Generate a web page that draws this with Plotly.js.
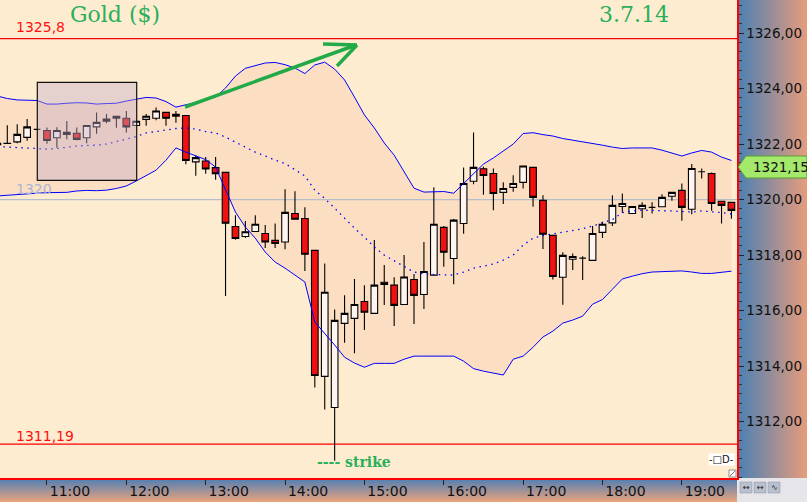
<!DOCTYPE html>
<html><head><meta charset="utf-8">
<script src="https://cdn.plot.ly/plotly-3.0.1.min.js"></script>
<style>html,body{margin:0;padding:0;background:#feecd1;}#chart{width:807px;height:502px;}</style>
</head><body><div id="chart"></div>
<script>
const DAY = '2014-07-03 ';
const times = ['10:22:30','10:30:00','10:37:30','10:45:00','10:52:30','11:00:00','11:07:30','11:15:00','11:22:30','11:30:00',
'11:37:30','11:45:00','11:52:30','12:00:00','12:07:30','12:15:00','12:22:30','12:30:00','12:37:30','12:45:00',
'12:52:30','13:00:00','13:07:30','13:15:00','13:22:30','13:30:00','13:37:30','13:45:00','13:52:30','14:00:00',
'14:07:30','14:15:00','14:22:30','14:30:00','14:37:30','14:45:00','14:52:30','15:00:00','15:07:30','15:15:00',
'15:22:30','15:30:00','15:37:30','15:45:00','15:52:30','16:00:00','16:07:30','16:15:00','16:22:30','16:30:00',
'16:37:30','16:45:00','16:52:30','17:00:00','17:07:30','17:15:00','17:22:30','17:30:00','17:37:30','17:45:00',
'17:52:30','18:00:00','18:07:30','18:15:00','18:22:30','18:30:00','18:37:30','18:45:00','18:52:30','19:00:00',
'19:07:30','19:15:00','19:22:30','19:30:00','19:37:30'];
const open  = [1321.98,1322.02,1322.08,1322.24,1322.53,1322.49,1322.23,1322.42,1322.39,1322.23,1322.62,1322.82,1322.93,1322.93,1322.67,1322.89,1322.93,1323.14,1323.00,1323.03,
1321.36,1321.39,1321.15,1320.98,1319.03,1318.67,1318.85,1318.78,1318.53,1318.47,1319.50,1319.32,1318.17,1313.63,1312.51,1315.54,1315.72,1316.33,1315.90,1317.02,
1316.92,1316.22,1317.12,1316.58,1317.28,1319.00,1317.88,1319.14,1320.66,1321.11,1320.94,1320.26,1320.44,1320.62,1321.16,1319.97,1318.71,1317.20,1317.85,1317.89,
1317.81,1318.82,1319.16,1319.75,1319.50,1319.67,1319.72,1319.74,1320.12,1320.33,1319.65,1321.00,1320.94,1319.94,1319.90];
const high  = [1322.05,1322.68,1322.71,1322.90,1322.55,1322.60,1322.61,1322.83,1322.60,1322.68,1323.14,1323.08,1323.01,1323.19,1322.84,1323.08,1323.32,1323.15,1323.19,1323.05,
1321.60,1321.53,1321.53,1321.00,1319.44,1319.23,1319.44,1319.08,1319.14,1320.37,1320.30,1319.72,1318.18,1317.70,1316.04,1316.55,1317.14,1316.91,1318.54,1317.64,
1317.20,1318.00,1317.32,1318.47,1320.44,1319.05,1319.30,1321.16,1322.42,1321.18,1321.12,1320.62,1320.88,1321.22,1321.17,1320.16,1318.72,1318.10,1318.06,1317.96,
1319.05,1319.20,1320.16,1320.22,1319.76,1319.90,1319.90,1320.19,1320.27,1320.58,1321.28,1321.12,1320.98,1319.96,1319.91];
const low   = [1321.95,1322.00,1322.03,1322.12,1322.50,1322.01,1321.87,1322.17,1322.14,1322.03,1322.37,1322.75,1322.59,1322.42,1322.65,1322.66,1322.86,1322.66,1322.77,1321.27,
1320.86,1320.93,1320.71,1316.53,1318.55,1318.62,1318.84,1318.26,1318.26,1318.21,1319.28,1317.43,1313.23,1312.44,1310.59,1314.84,1314.46,1315.30,1315.89,1316.20,
1315.45,1316.20,1315.52,1316.06,1317.27,1317.58,1316.95,1318.77,1320.55,1320.17,1319.62,1319.84,1320.28,1320.40,1319.74,1318.22,1317.12,1316.21,1317.46,1317.10,
1317.80,1318.62,1319.05,1319.53,1319.49,1319.34,1319.50,1319.73,1319.96,1319.24,1319.47,1320.76,1319.60,1319.14,1319.31];
const close = [1322.03,1322.03,1322.35,1322.62,1322.53,1322.13,1322.49,1322.35,1322.17,1322.67,1322.78,1322.90,1323.00,1322.62,1322.82,1323.00,1323.19,1322.93,1323.07,1321.41,
1321.51,1321.10,1320.93,1319.15,1318.60,1318.84,1319.11,1318.47,1318.42,1319.54,1319.29,1318.03,1313.66,1316.66,1315.65,1315.90,1316.22,1315.94,1316.92,1316.94,
1316.19,1317.21,1316.55,1317.41,1319.11,1318.10,1319.26,1320.58,1321.16,1320.87,1320.22,1320.40,1320.58,1321.21,1320.08,1318.75,1317.23,1317.99,1317.95,1317.89,
1318.78,1319.11,1319.79,1319.86,1319.75,1319.79,1319.72,1320.08,1320.26,1319.72,1321.12,1321.00,1319.86,1319.79,1319.61];
const bandUpper = [1323.73,1323.64,1323.59,1323.59,1323.57,1323.44,1323.44,1323.47,1323.49,1323.48,1323.44,1323.46,1323.47,1323.55,1323.61,1323.68,1323.66,1323.53,1323.33,1323.41,
1323.50,1323.60,1323.69,1324.02,1324.45,1324.73,1324.83,1324.92,1324.94,1324.86,1324.74,1324.54,1324.85,1324.95,1324.70,1324.31,1323.69,1323.05,1322.58,1322.04,
1321.60,1320.99,1320.41,1320.27,1320.27,1320.29,1320.23,1320.59,1320.92,1321.28,1321.50,1321.75,1322.00,1322.38,1322.41,1322.34,1322.29,1322.20,1322.14,1322.09,
1322.04,1321.96,1321.89,1321.84,1321.86,1321.86,1321.86,1321.78,1321.68,1321.57,1321.68,1321.77,1321.71,1321.53,1321.41];
const bandMiddle = [1321.91,1321.89,1321.87,1321.86,1321.84,1321.82,1321.84,1321.89,1321.93,1321.95,1321.96,1322.00,1322.08,1322.18,1322.27,1322.40,1322.45,1322.50,1322.56,1322.58,
1322.54,1322.45,1322.40,1322.25,1322.07,1321.89,1321.71,1321.57,1321.42,1321.30,1321.06,1320.85,1320.34,1320.04,1319.69,1319.33,1318.97,1318.65,1318.29,1318.00,
1317.78,1317.59,1317.39,1317.32,1317.30,1317.28,1317.28,1317.39,1317.53,1317.60,1317.68,1317.82,1318.00,1318.36,1318.61,1318.70,1318.76,1318.83,1318.88,1318.95,
1319.05,1319.17,1319.28,1319.53,1319.59,1319.62,1319.62,1319.60,1319.59,1319.57,1319.55,1319.59,1319.57,1319.53,1319.48];
const bandLower = [1320.13,1320.16,1320.18,1320.20,1320.23,1320.25,1320.25,1320.26,1320.31,1320.33,1320.32,1320.34,1320.40,1320.49,1320.67,1320.88,1321.06,1321.42,1321.86,1321.71,
1321.57,1321.44,1321.17,1320.34,1319.55,1319.01,1318.61,1318.11,1317.75,1317.53,1317.28,1317.03,1315.59,1315.19,1314.76,1314.32,1314.11,1313.96,1314.10,1314.10,
1314.10,1314.25,1314.36,1314.36,1314.36,1314.36,1314.36,1314.18,1313.91,1313.82,1313.75,1313.68,1314.25,1314.36,1314.68,1315.05,1315.26,1315.55,1315.66,1315.80,
1316.23,1316.40,1316.77,1317.14,1317.24,1317.33,1317.39,1317.41,1317.42,1317.43,1317.39,1317.34,1317.34,1317.39,1317.42];
const hourTicks = ['11:00','12:00','13:00','14:00','15:00','16:00','17:00','18:00','19:00'];
const priceTicks = [1312, 1314, 1316, 1318, 1320, 1322, 1324, 1326];
const levelHigh = 1325.8, levelLow = 1311.19, levelRound = 1320, lastPrice = '1321,15';
const labelHigh = '1325,8', labelLow = '1311,19', labelRound = '1320';
const titleText = 'Gold ($)', dateText = '3.7.14', strikeText = '---- strike';

// plot-area pixel helpers (plot area is 737 x 478 px)
const W = 737, H = 478;
const px = x => x / W;
const py = y => 1 - y / H;

const xs = times.map(t => DAY + t);
const xRange = [DAY + '10:24:29', DAY + '19:41:42'];
const yRange = [1309.97, 1327.19];

const BG = '#feecd1', BAND = '#fcdfc2', GREEN = '#2aaf5a';

function grad(dir, c1, c2) {
  const x2 = dir === 'h' ? 1 : 0, y2 = dir === 'h' ? 0 : 1;
  const s = '<svg xmlns="http://www.w3.org/2000/svg" width="100" height="100" viewBox="0 0 100 100" preserveAspectRatio="none">' +
    '<defs><linearGradient id="g" x1="0" y1="0" x2="' + x2 + '" y2="' + y2 + '">' +
    '<stop offset="0" stop-color="' + c1 + '"/><stop offset="1" stop-color="' + c2 + '"/></linearGradient></defs>' +
    '<rect width="100" height="100" fill="url(#g)"/></svg>';
  return 'data:image/svg+xml;charset=utf-8,' + encodeURIComponent(s);
}

const hline = (v, color, w) => ({type:'scatter', mode:'lines', x:xRange, y:[v, v], xaxis:'x', yaxis:'y',
  line:{color:color, width:w}, hoverinfo:'skip', showlegend:false});

const traces = [
  {type:'scatter', mode:'lines', x:xs, y:bandUpper, xaxis:'x', yaxis:'y', line:{width:0}, hoverinfo:'skip', showlegend:false},
  {type:'scatter', mode:'lines', x:xs, y:bandLower, xaxis:'x', yaxis:'y', fill:'tonexty', fillcolor:BAND, line:{width:0}, hoverinfo:'skip', showlegend:false},
  hline(levelRound, '#b6bdcb', 1.2),
  hline(levelHigh, '#ff0000', 1.2),
  hline(levelLow, '#ff0000', 1.2),
  {type:'candlestick', x:xs, open:open, high:high, low:low, close:close, xaxis:'x2', yaxis:'y2',
   increasing:{line:{color:'#000000', width:1.1}, fillcolor:'#fff5f0'},
   decreasing:{line:{color:'#000000', width:1.1}, fillcolor:'#f01010'},
   whiskerwidth:0, hoverinfo:'skip', showlegend:false},
  {type:'scatter', mode:'lines', x:xs, y:bandUpper, xaxis:'x2', yaxis:'y2', line:{color:'#0000ff', width:1}, hoverinfo:'skip', showlegend:false},
  {type:'scatter', mode:'lines', x:xs, y:bandLower, xaxis:'x2', yaxis:'y2', line:{color:'#0000ff', width:1}, hoverinfo:'skip', showlegend:false},
  {type:'scatter', mode:'lines', x:xs, y:bandMiddle, xaxis:'x2', yaxis:'y2', line:{color:'#0000ff', width:1.3, dash:'1.5px,4.5px'}, hoverinfo:'skip', showlegend:false}
];

const tickFont = {family:'DejaVu Sans', size:14, color:'#111111'};
const layout = {
  width:807, height:502,
  margin:{l:0, r:70, t:0, b:24, pad:0},
  paper_bgcolor:BG, plot_bgcolor:BG,
  showlegend:false, separators:',.',
  boxgap:0.33, boxgroupgap:0,
  xaxis:{type:'date', range:xRange, tickmode:'array', tickvals:hourTicks.map(h => DAY + h), ticktext:hourTicks,
    ticks:'outside', ticklen:5, tickcolor:'#222', showgrid:false, zeroline:false,
    showline:true, linecolor:'#ff0000', linewidth:1.5, tickfont:tickFont, ticklabelshift:23, ticklabelstandoff:-5,
    rangeslider:{visible:false}, fixedrange:true},
  yaxis:{side:'right', range:yRange, tickmode:'array', tickvals:priceTicks, tickformat:'.2f', ticks:'outside', ticklen:5, tickcolor:'#222',
    minor:{dtick:2/6, tick0:0, ticks:'outside', ticklen:3, tickcolor:'#333'},
    showgrid:false, zeroline:false, showline:true, linecolor:'#ff0000', linewidth:1.5,
    tickfont:{family:'DejaVu Sans', size:13.5, color:'#111111'}, fixedrange:true},
  xaxis2:{type:'date', range:xRange, overlaying:'x', visible:false, rangeslider:{visible:false}, fixedrange:true},
  yaxis2:{range:yRange, overlaying:'y', visible:false, fixedrange:true},
  images:[
    {source:grad('h', '#4a80b4', '#e69c7c'), xref:'paper', yref:'paper', x:1, y:1, sizex:70/W, sizey:1,
     xanchor:'left', yanchor:'top', sizing:'stretch', layer:'below'},
    {source:grad('v', '#4a7db5', '#eca47e'), xref:'paper', yref:'paper', x:0, y:0, sizex:1, sizey:24/H,
     xanchor:'left', yanchor:'top', sizing:'stretch', layer:'below'}
  ],
  shapes:[
    // bottom-right corner panel
    {type:'rect', xref:'paper', yref:'paper', x0:px(737), x1:px(807), y0:py(478), y1:py(502), fillcolor:'#e6e6ea', line:{width:0}, layer:'below'},
    {type:'rect', xref:'paper', yref:'paper', x0:px(740), x1:px(752), y0:py(482), y1:py(493), fillcolor:'#b9c0ce', line:{color:'#8890a0', width:0.5}},
    {type:'rect', xref:'paper', yref:'paper', x0:px(754), x1:px(766), y0:py(482), y1:py(493), fillcolor:'#b9c0ce', line:{color:'#8890a0', width:0.5}},
    {type:'rect', xref:'paper', yref:'paper', x0:px(768), x1:px(780), y0:py(482), y1:py(493), fillcolor:'#b9c0ce', line:{color:'#8890a0', width:0.5}},
    // selection box
    {type:'rect', xref:'paper', yref:'paper', x0:px(37.3), x1:px(136.7), y0:py(82.3), y1:py(180.3),
     fillcolor:'rgba(196,172,200,0.42)', line:{color:'#111111', width:1.2}, layer:'above'},
    // green arrow
    {type:'line', xref:'paper', yref:'paper', x0:px(185), y0:py(107), x1:px(356), y1:py(45), line:{color:'#22aa48', width:3.5}},
    {type:'line', xref:'paper', yref:'paper', x0:px(323), y0:py(44), x1:px(357), y1:py(45), line:{color:'#22aa48', width:3.5}},
    {type:'line', xref:'paper', yref:'paper', x0:px(337), y0:py(66), x1:px(357), y1:py(45), line:{color:'#22aa48', width:3.5}},
    // last price tag
    {type:'path', xref:'paper', yref:'paper',
     path:'M' + px(738) + ',' + py(167) + ' L' + px(746) + ',' + py(156) + ' L' + px(807) + ',' + py(156) +
          ' L' + px(807) + ',' + py(178) + ' L' + px(746) + ',' + py(178) + ' Z',
     fillcolor:'#a4e86c', line:{color:'#5c9c34', width:1}},
    // small corner widget
    {type:'rect', xref:'paper', yref:'paper', x0:px(729), x1:px(736), y0:py(470), y1:py(477), fillcolor:'#ffffff', line:{color:'#777', width:0.8}},
    {type:'line', xref:'paper', yref:'paper', x0:px(730), x1:px(735), y0:py(476), y1:py(471), line:{color:'#555', width:0.8}}
  ],
  annotations:[
    {text:titleText, xref:'paper', yref:'paper', x:px(115), y:py(14), showarrow:false, xanchor:'center', yanchor:'middle',
     font:{family:'DejaVu Serif', size:22, color:GREEN}},
    {text:dateText, xref:'paper', yref:'paper', x:px(634), y:py(14), showarrow:false, xanchor:'center', yanchor:'middle',
     font:{family:'DejaVu Serif', size:22, color:GREEN}},
    {text:labelHigh, xref:'paper', yref:'paper', x:px(14), y:py(27), showarrow:false, xanchor:'left', yanchor:'middle',
     font:{family:'DejaVu Sans', size:14, color:'#ff1010'}},
    {text:labelLow, xref:'paper', yref:'paper', x:px(14), y:py(436), showarrow:false, xanchor:'left', yanchor:'middle',
     font:{family:'DejaVu Sans', size:14, color:'#ff1010'}},
    {text:labelRound, xref:'paper', yref:'paper', x:px(14), y:py(189), showarrow:false, xanchor:'left', yanchor:'middle',
     font:{family:'DejaVu Sans', size:14, color:'#aab6d4'}},
    {text:strikeText, xref:'paper', yref:'paper', x:px(315), y:py(462), showarrow:false, xanchor:'left', yanchor:'middle',
     font:{family:'DejaVu Serif', size:14, color:GREEN, weight:'bold'}},
    {text:lastPrice, xref:'paper', yref:'paper', x:px(751), y:py(167), showarrow:false, xanchor:'left', yanchor:'middle',
     font:{family:'DejaVu Sans', size:13.5, color:'#111111'}},
    {text:'-□D-', xref:'paper', yref:'paper', x:px(721), y:py(459), showarrow:false, xanchor:'center', yanchor:'middle',
     bgcolor:'#ffffff', borderpad:0, font:{family:'DejaVu Sans', size:10, color:'#111'}},
    {text:'↔', xref:'paper', yref:'paper', x:px(746), y:py(487.5), showarrow:false, xanchor:'center', yanchor:'middle', borderpad:0, font:{family:'DejaVu Sans', size:8, color:'#222'}},
    {text:'↔', xref:'paper', yref:'paper', x:px(760), y:py(487.5), showarrow:false, xanchor:'center', yanchor:'middle', borderpad:0, font:{family:'DejaVu Sans', size:8, color:'#222'}},
    {text:'∿', xref:'paper', yref:'paper', x:px(774), y:py(487.5), showarrow:false, xanchor:'center', yanchor:'middle', borderpad:0, font:{family:'DejaVu Sans', size:8, color:'#222'}}
  ]
};

Plotly.newPlot('chart', traces, layout, {displayModeBar:false, staticPlot:true});
</script>
</body></html>
